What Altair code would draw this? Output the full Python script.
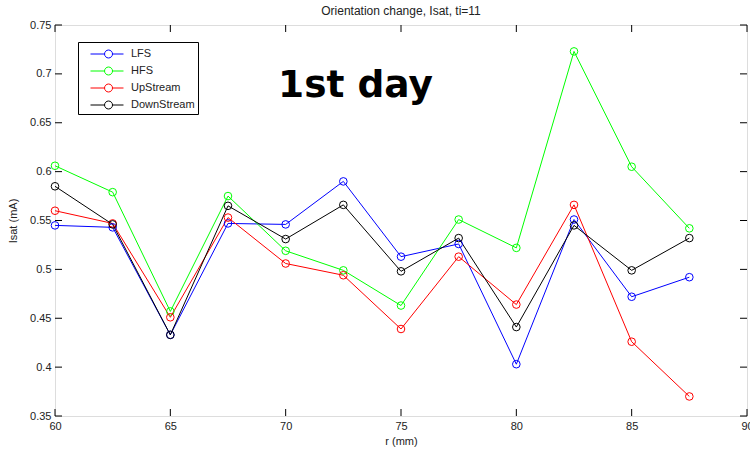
import altair as alt
import pandas as pd

# ---- data ----
r_mm = [60, 62.5, 65, 67.5, 70, 72.5, 75, 77.5, 80, 82.5, 85, 87.5]
lfs = [0.545, 0.543, 0.433, 0.547, 0.546, 0.590, 0.513, 0.526, 0.403, 0.551, 0.472, 0.492]
hfs = [0.606, 0.579, 0.457, 0.575, 0.519, 0.499, 0.463, 0.551, 0.522, 0.723, 0.605, 0.542]
upstream = [0.560, 0.547, 0.451, 0.553, 0.506, 0.494, 0.439, 0.513, 0.464, 0.566, 0.426, 0.370]
downstream = [0.585, 0.546, 0.433, 0.565, 0.531, 0.566, 0.498, 0.532, 0.441, 0.545, 0.499, 0.532]

series_names = ["LFS", "HFS", "UpStream", "DownStream"]
series_colors = ["#0000ff", "#00ff00", "#ff0000", "#000000"]

x_ticks = [60, 65, 70, 75, 80, 85, 90]
y_ticks = [0.35, 0.4, 0.45, 0.5, 0.55, 0.6, 0.65, 0.7, 0.75]

annot_text = ["1st day"]
annot_x = [69.67]
annot_y = [0.676]

chart_title = "Orientation change, Isat, ti=11"
x_title = "r (mm)"
y_title = "Isat (mA)"

# ---- build table ----
rows = []
for name, vals in zip(series_names, [lfs, hfs, upstream, downstream]):
    for i, (x, y) in enumerate(zip(r_mm, vals)):
        rows.append({"series": name, "r": x, "isat": y, "order": i})
df = pd.DataFrame(rows)

W, H = 692, 391
FONT = "Liberation Sans"
TXT = "#222222"

xscale = alt.Scale(domain=[60, 90], nice=False, zero=False)
yscale = alt.Scale(domain=[0.35, 0.75], nice=False, zero=False)

x_axis = alt.Axis(values=x_ticks, format="d", ticks=False, domain=False, grid=False,
                  labelFont=FONT, labelFontSize=11, labelColor=TXT, labelPadding=4,
                  labelFlush=False, labelOverlap=False, labelBound=False,
                  title=x_title, titleFont=FONT, titleFontSize=11, titleFontWeight="normal",
                  titleColor=TXT, titlePadding=4)
y_axis = alt.Axis(values=y_ticks, format=".2~f", ticks=False, domain=False, grid=False,
                  labelFont=FONT, labelFontSize=11, labelColor=TXT, labelPadding=4,
                  labelFlush=False, labelOverlap=False, labelBound=False,
                  title=y_title, titleFont=FONT, titleFontSize=11, titleFontWeight="normal",
                  titleColor=TXT, titlePadding=11)

LEG_PATH = ("M-1.94,0L-0.29,0M0.65,0L1.94,0"
            "M0.65,0A0.47,0.47 0 1,0 -0.29,0A0.47,0.47 0 1,0 0.65,0")

color = alt.Color("series:N",
                  scale=alt.Scale(domain=series_names, range=series_colors),
                  legend=alt.Legend(title=None, orient="none", legendX=23, legendY=17,
                                    symbolType=LEG_PATH, symbolSize=289, symbolStrokeWidth=1,
                                    symbolFillColor="transparent",
                                    symbolOffset=17, labelOffset=15, padding=3, rowPadding=2,
                                    strokeColor="black", fillColor="white", cornerRadius=0,
                                    labelFont=FONT, labelFontSize=11, labelColor=TXT))

base = alt.Chart(df).encode(
    x=alt.X("r:Q", scale=xscale, axis=x_axis),
    y=alt.Y("isat:Q", scale=yscale, axis=y_axis),
    color=color,
    order="order:Q",
)
lines = base.mark_line(strokeWidth=1)
points = base.mark_point(filled=False, size=58, strokeWidth=1, opacity=1)

xt = pd.DataFrame({"x": x_ticks})
yt = pd.DataFrame({"y": y_ticks})
tick_top = alt.Chart(xt).mark_rule(color="black", strokeWidth=1).encode(
    x=alt.X("x:Q", scale=xscale), y=alt.value(0), y2=alt.value(7))
tick_bot = alt.Chart(xt).mark_rule(color="black", strokeWidth=1).encode(
    x=alt.X("x:Q", scale=xscale), y=alt.value(H), y2=alt.value(H - 7))
tick_left = alt.Chart(yt).mark_rule(color="black", strokeWidth=1).encode(
    y=alt.Y("y:Q", scale=yscale), x=alt.value(0), x2=alt.value(7))
tick_right = alt.Chart(yt).mark_rule(color="black", strokeWidth=1).encode(
    y=alt.Y("y:Q", scale=yscale), x=alt.value(W), x2=alt.value(W - 7))

annot = alt.Chart(pd.DataFrame({"t": annot_text, "x": annot_x, "y": annot_y})).mark_text(
    font="DejaVu Sans", fontWeight="bold", fontSize=37.5, align="left", baseline="alphabetic",
    color="black").encode(x=alt.X("x:Q", scale=xscale), y=alt.Y("y:Q", scale=yscale), text="t:N")

chart = alt.layer(tick_top, tick_bot, tick_left, tick_right, lines, points, annot).properties(
    width=W, height=H,
    title=alt.Title(chart_title, font=FONT, fontSize=12, fontWeight="normal", color=TXT,
                    offset=1, anchor="middle"),
    padding={"left": 55, "top": 25, "right": 3, "bottom": 34},
    autosize=alt.AutoSizeParams(type="none"),
).configure_view(stroke="black", strokeWidth=1).configure(background="white")

chart.save("out.html", embed_options={"renderer": "svg", "actions": False})
